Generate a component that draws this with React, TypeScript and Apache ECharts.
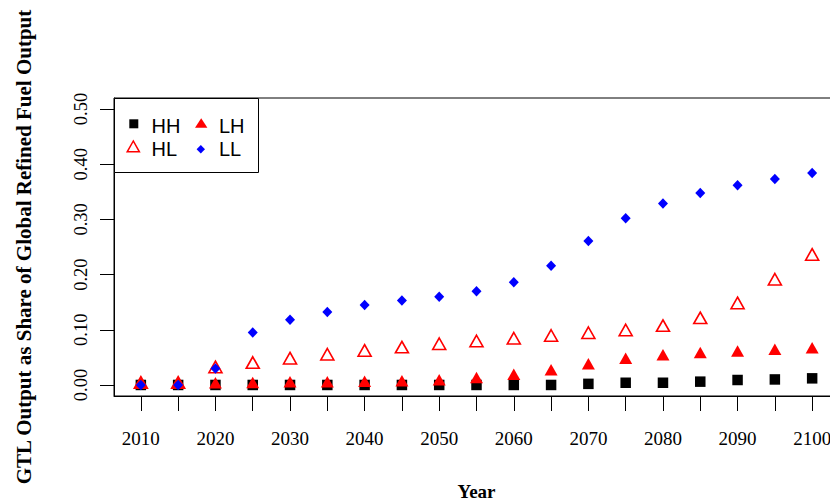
import React, { useEffect, useRef } from "react";
import * as echarts from "echarts";

const years = [2010, 2015, 2020, 2025, 2030, 2035, 2040, 2045, 2050, 2055, 2060, 2065, 2070, 2075, 2080, 2085, 2090, 2095, 2100];
const xTickValues = [2010, 2015, 2020, 2025, 2030, 2035, 2040, 2045, 2050, 2055, 2060, 2065, 2070, 2075, 2080, 2085, 2090, 2095, 2100];
const xLabelValues = [2010, 2020, 2030, 2040, 2050, 2060, 2070, 2080, 2090, 2100];
const yTickValues = [0, 0.1, 0.2, 0.3, 0.4, 0.5];

const hh = [0, 0, 0, 0, 0, 0, 0, 0, 0, 0, 0, 0, 0.002, 0.004, 0.004, 0.006, 0.009, 0.010, 0.012];
const lh = [0, 0, 0.0005, 0.001, 0.002, 0.002, 0.003, 0.004, 0.006, 0.010, 0.016, 0.024, 0.035, 0.045, 0.051, 0.055, 0.058, 0.061, 0.064];
const hl = [0.001, 0.001, 0.029, 0.037, 0.045, 0.052, 0.059, 0.065, 0.071, 0.076, 0.081, 0.086, 0.091, 0.096, 0.104, 0.118, 0.145, 0.188, 0.233];
const ll = [0, 0, 0.030, 0.095, 0.118, 0.132, 0.145, 0.153, 0.160, 0.170, 0.186, 0.216, 0.261, 0.302, 0.329, 0.348, 0.362, 0.373, 0.384];

const legendLabels = ["HH", "LH", "HL", "LL"];

const pair = (vals: number[]) => years.map((y, i) => [y, vals[i]]);

export default function App() {
  const ref = useRef<HTMLDivElement>(null);
  useEffect(() => {
    if (!ref.current) return;
    const chart = echarts.init(ref.current, null, { renderer: "svg" });
    const serif = "'Liberation Serif', 'Times New Roman', serif";
    const sans = "'Liberation Sans', Arial, sans-serif";
    chart.setOption({
      animation: false,
      backgroundColor: "#fff",
      grid: {
        left: 114,
        right: -9,
        top: 98,
        bottom: 106,
        show: true,
        borderColor: "#000",
        borderWidth: 1,
        backgroundColor: "transparent",
        containLabel: false,
        outerBoundsMode: "none",
      },
      xAxis: {
        type: "value",
        min: 2006.4,
        max: 2103.6,
        name: "Year",
        nameLocation: "middle",
        nameGap: 86,
        nameTextStyle: { fontFamily: serif, fontWeight: "bold", fontSize: 19, color: "#000" },
        axisLine: { show: true, onZero: false, lineStyle: { color: "#000", width: 1 } },
        axisTick: { show: true, length: 15, customValues: xTickValues, lineStyle: { color: "#000", width: 1 } },
        axisLabel: { customValues: xLabelValues, fontFamily: serif, fontSize: 19, color: "#000", margin: 33, formatter: (v: number) => String(v) },
        splitLine: { show: false },
      },
      yAxis: {
        type: "value",
        min: -0.02,
        max: 0.52,
        name: "GTL Output as Share of Global Refined Fuel Output",
        nameLocation: "middle",
        nameGap: 80,
        nameRotate: 90,
        nameTextStyle: { fontFamily: serif, fontWeight: "bold", fontSize: 21, color: "#000" },
        axisLine: { show: true, onZero: false, lineStyle: { color: "#000", width: 1 } },
        axisTick: { show: true, length: 14, customValues: yTickValues, lineStyle: { color: "#000", width: 1 } },
        axisLabel: {
          customValues: yTickValues,
          rotate: 90,
          fontFamily: serif,
          fontSize: 18.5,
          color: "#000",
          margin: 24,
          formatter: (v: number) => v.toFixed(2),
        },
        splitLine: { show: false },
      },
      series: [
        {
          name: "HH",
          type: "scatter",
          data: pair(hh),
          symbol: "rect",
          symbolSize: 10.5,
          itemStyle: { color: "#000", opacity: 1 },
        },
        {
          name: "LH",
          type: "scatter",
          data: pair(lh),
          symbol: "triangle",
          symbolSize: [13, 11.5],
          symbolOffset: [0, -2],
          itemStyle: { color: "#ff0000", opacity: 1 },
        },
        {
          name: "HL",
          type: "scatter",
          data: pair(hl),
          symbol: "triangle",
          symbolSize: [13, 11.5],
          symbolOffset: [0, -2],
          itemStyle: { color: "rgba(0,0,0,0)", borderColor: "#ff0000", borderWidth: 1.6, opacity: 1 },
        },
        {
          name: "LL",
          type: "scatter",
          data: pair(ll),
          symbol: "diamond",
          symbolSize: [10, 10.5],
          itemStyle: { color: "#0000ff", opacity: 1 },
        },
      ],
      graphic: [
        {
          type: "rect",
          z: 100,
          shape: { x: 114.5, y: 98.5, width: 144, height: 74 },
          style: { fill: "#fff", stroke: "#000", lineWidth: 1 },
        },
        {
          type: "rect",
          z: 101,
          shape: { x: 129.3, y: 119.3, width: 9, height: 9 },
          style: { fill: "#000" },
        },
        {
          type: "polygon",
          z: 101,
          shape: { points: [[201.2, 118.3], [195, 127.7], [207.4, 127.7]] },
          style: { fill: "#ff0000" },
        },
        {
          type: "polygon",
          z: 101,
          shape: { points: [[133.3, 141], [127.2, 151.8], [139.4, 151.8]] },
          style: { fill: "none", stroke: "#ff0000", lineWidth: 1.5 },
        },
        {
          type: "polygon",
          z: 101,
          shape: { points: [[200.8, 145], [205, 149.2], [200.8, 153.4], [196.6, 149.2]] },
          style: { fill: "#0000ff" },
        },
        {
          type: "text",
          z: 101,
          x: 151.5,
          y: 126,
          style: { text: legendLabels[0], font: `20px ${sans}`, fill: "#000", textVerticalAlign: "middle" },
        },
        {
          type: "text",
          z: 101,
          x: 219,
          y: 126,
          style: { text: legendLabels[1], font: `20px ${sans}`, fill: "#000", textVerticalAlign: "middle" },
        },
        {
          type: "text",
          z: 101,
          x: 151.5,
          y: 149,
          style: { text: legendLabels[2], font: `20px ${sans}`, fill: "#000", textVerticalAlign: "middle" },
        },
        {
          type: "text",
          z: 101,
          x: 219,
          y: 149,
          style: { text: legendLabels[3], font: `20px ${sans}`, fill: "#000", textVerticalAlign: "middle" },
        },
      ],
    });
    return () => chart.dispose();
  }, []);
  return <div ref={ref} style={{ position: "fixed", left: 0, top: 0, width: 830, height: 502 }} />;
}
